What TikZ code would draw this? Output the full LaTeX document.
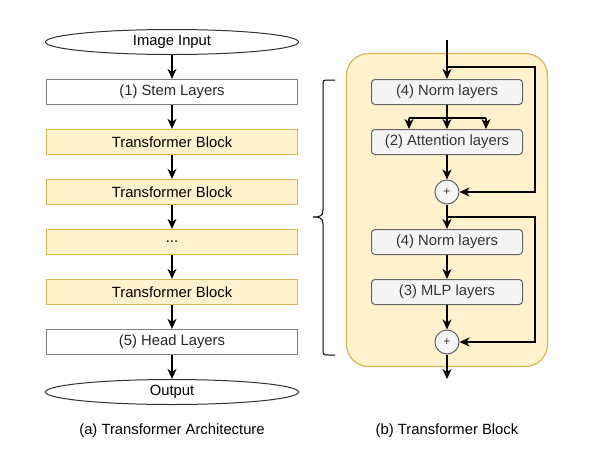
\documentclass[tikz,border=0pt]{standalone}
\usepackage{fontspec}
\setmainfont{Liberation Sans}
\usetikzlibrary{shapes.geometric,arrows.meta}
\definecolor{yfill}{HTML}{FFF2CC}
\definecolor{ydraw}{HTML}{D6B656}
\definecolor{gfill}{HTML}{F5F5F5}
\definecolor{gdraw}{HTML}{666666}
\definecolor{gtext}{HTML}{333333}
\definecolor{wdraw}{HTML}{808080}
\begin{document}
\begin{tikzpicture}[x=1pt,y=-1pt,
  font=\fontsize{14.8}{17}\selectfont,
  arr/.style={-{Stealth[length=10pt,width=9pt,inset=3pt]}, line width=1.3pt},
  ln/.style={line width=1.3pt},
  wbox/.style={draw=wdraw, line width=1.2pt, fill=white, text=black!85, minimum width=251pt, minimum height=25pt, inner sep=0pt},
  ybox/.style={draw=ydraw, line width=1.2pt, fill=yfill, text=black, minimum width=251pt, minimum height=25pt, inner sep=0pt},
  ell/.style={ellipse, draw=black!80, line width=1pt, fill=white, text=black, minimum width=253pt, minimum height=25pt, inner sep=0pt},
  gbox/.style={draw=gdraw, line width=1pt, fill=gfill, text=gtext, rounded corners=3.5pt, minimum width=151pt, minimum height=25pt, inner sep=0pt},
  plus/.style={circle, draw=gdraw, line width=1pt, fill=gfill, text=gtext, minimum size=24pt, inner sep=0pt, font=\fontsize{12}{13}\selectfont},
  panel/.style={draw=ydraw, line width=1.2pt, fill=yfill, rounded corners=22pt, minimum width=201pt, minimum height=313pt, inner sep=0pt},
  captxt/.style={text=black}
]
\useasboundingbox (0,0) rectangle (590,451);

% ---------- left column ----------
\node[ell]  (in)   at (172,42)  {Image Input};
\node[wbox] (stem) at (172,92)  {(1) Stem Layers};
\node[ybox] (tb1)  at (172,142) {Transformer Block};
\node[ybox] (tb2)  at (172,192) {Transformer Block};
\node[ybox] (dots) at (172,242) {...};
\node[ybox] (tb4)  at (172,292) {Transformer Block};
\node[wbox] (head) at (172,342) {(5) Head Layers};
\node[ell]  (out)  at (172,392) {Output};

\draw[arr] (in) -- (stem);
\draw[arr] (stem) -- (tb1);
\draw[arr] (tb1) -- (tb2);
\draw[arr] (tb2) -- (dots);
\draw[arr] (dots) -- (tb4);
\draw[arr] (tb4) -- (head);
\draw[arr] (head) -- (out);

\node[captxt] (capa) at (172,431) {(a) Transformer Architecture};

% ---------- brace ----------
\draw[line width=1pt]
  (335,80) -- (329,80) .. controls (323,80) and (323,80) .. (323,86)
  -- (323,210) .. controls (323,216) and (320,217) .. (313,217)
  .. controls (320,217) and (323,218) .. (323,224)
  -- (323,349) .. controls (323,355) and (323,355) .. (329,355) -- (335,355);

% ---------- right panel ----------
\node[panel] (blk) at (447,210) {};
\node[gbox] (n1)  at (447,92)  {(4) Norm layers};
\node[gbox] (att) at (447,142) {(2) Attention layers};
\node[plus] (p1)  at (447,192) {+};
\node[gbox] (n2)  at (447,242) {(4) Norm layers};
\node[gbox] (mlp) at (447,292) {(3) MLP layers};
\node[plus] (p2)  at (447,342) {+};

\coordinate (top) at (447,40);
\coordinate (s1a) at (447,67);
\coordinate (s1b) at (535,67);
\coordinate (s1c) at (535,192);
\coordinate (fork) at (447,118);
\coordinate (fl) at (409,118);
\coordinate (fr) at (486,118);
\coordinate (s2a) at (447,217);
\coordinate (s2b) at (535,217);
\coordinate (s2c) at (535,342);
\coordinate (outb) at (447,379);

\draw[arr] (top) -- (n1);
\draw[arr] (s1a) -- (s1b) -- (s1c) -- (p1);
\draw[ln] (n1) -- (fork);
\draw[ln] (fl) -- (fr);
\draw[arr] (fl) -- (fl |- att.north);
\draw[arr] (fork) -- (att);
\draw[arr] (fr) -- (fr |- att.north);
\draw[arr] (att) -- (p1);
\draw[arr] (p1) -- (n2);
\draw[arr] (s2a) -- (s2b) -- (s2c) -- (p2);
\draw[arr] (n2) -- (mlp);
\draw[arr] (mlp) -- (p2);
\draw[arr] (p2) -- (outb);

\node[captxt] (capb) at (447,431) {(b) Transformer Block};
\end{tikzpicture}
\end{document}
